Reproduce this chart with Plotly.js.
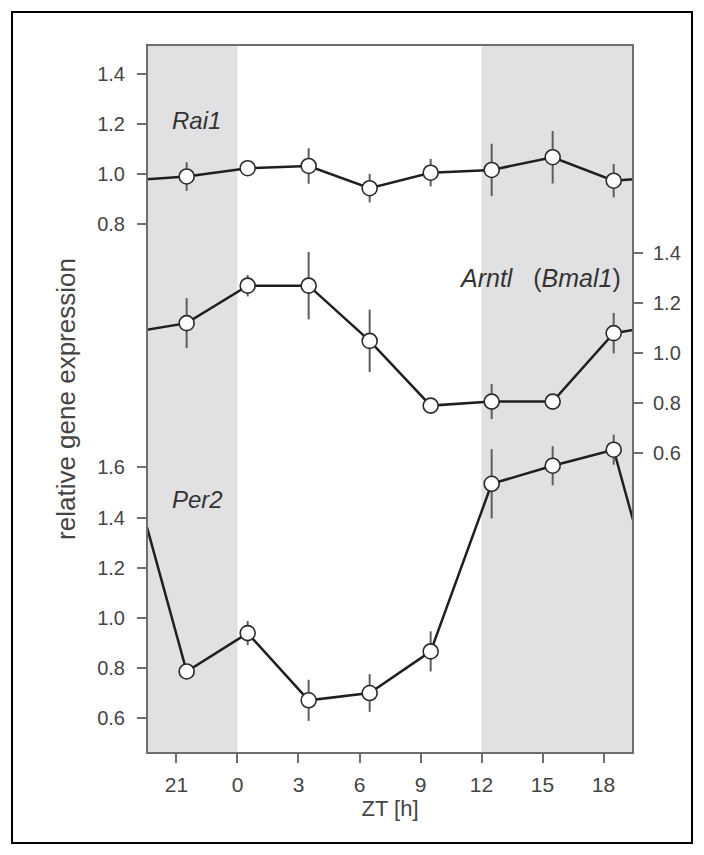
<!DOCTYPE html>
<html>
<head>
<meta charset="utf-8">
<script src="https://cdn.plot.ly/plotly-3.0.1.min.js"></script>
<style>
  html, body { margin: 0; padding: 0; background: #ffffff; }
  #chart { width: 704px; height: 855px; }
</style>
</head>
<body>
<div id="chart"></div>
<script>
// ---- data ----
const zt = [-2.5, 0.5, 3.5, 6.5, 9.5, 12.5, 15.5, 18.5];   // ZT 21.5 shown as -2.5
const rai1 = [0.990, 1.023, 1.032, 0.943, 1.005, 1.016, 1.067, 0.973];
const rai1Err = [0.057, 0.020, 0.071, 0.057, 0.055, 0.105, 0.105, 0.067];
const arntl = [1.120, 1.270, 1.270, 1.049, 0.790, 0.806, 0.806, 1.080];
const arntlErr = [0.100, 0.043, 0.135, 0.125, 0.020, 0.070, 0.020, 0.081];
const per2 = [0.787, 0.940, 0.672, 0.701, 0.867, 1.535, 1.607, 1.671];
const per2Err = [0.020, 0.048, 0.082, 0.075, 0.080, 0.138, 0.078, 0.060];

const xTickVals = [-3, 0, 3, 6, 9, 12, 15, 18];
const xTickText = ['21', '0', '3', '6', '9', '12', '15', '18'];
const rai1Ticks = [0.8, 1.0, 1.2, 1.4];
const arntlTicks = [0.6, 0.8, 1.0, 1.2, 1.4];
const per2Ticks = [0.6, 0.8, 1.0, 1.2, 1.4, 1.6];
const darkStart = [-12, 12];
const darkEnd = [0, 24];
const period = 24;

// ---- styling ----
const FONT = 'Liberation Sans, Arial, sans-serif';
const TXT = '#444444';
const FRAME = '#6e6e6e';
const SHADE = '#e1e1e3';
const LINE = '#1f1f1f';

function wrapX(xs) { return [xs[xs.length - 1] - period].concat(xs, [xs[0] + period]); }
function wrapY(ys) { return [ys[ys.length - 1]].concat(ys, [ys[0]]); }

function series(name, ys, errs, yaxis) {
  return [
    {
      type: 'scatter', mode: 'lines', x: wrapX(zt), y: wrapY(ys), yaxis: yaxis,
      line: { color: LINE, width: 2.5 }, hoverinfo: 'skip', showlegend: false
    },
    {
      type: 'scatter', mode: 'markers', name: name, x: zt, y: ys, yaxis: yaxis,
      marker: { size: 15, color: '#ffffff', line: { color: '#2a2a2a', width: 1.6 } },
      error_y: { type: 'data', array: errs, visible: true, color: '#5e5e5e', thickness: 2, width: 0 },
      cliponaxis: false, showlegend: false
    }
  ];
}

const data = [].concat(
  series('Rai1', rai1, rai1Err, 'y2'),
  series('Arntl (Bmal1)', arntl, arntlErr, 'y3'),
  series('Per2', per2, per2Err, 'y')
);

const xRange = [-4.45, 19.45];
const shapes = darkStart.map((s, i) => ({
  type: 'rect', xref: 'x', yref: 'paper', x0: s, x1: darkEnd[i], y0: 0, y1: 1,
  fillcolor: SHADE, line: { width: 0 }, layer: 'below'
}));
shapes.push({
  type: 'rect', xref: 'paper', yref: 'paper', x0: 0, x1: 1, y0: 0, y1: 1,
  line: { color: FRAME, width: 2 }, fillcolor: 'rgba(0,0,0,0)', layer: 'above'
});
// outer figure border
shapes.push({
  type: 'rect', xref: 'paper', yref: 'paper',
  x0: (12 - 147) / 486, x1: (692 - 147) / 486,
  y0: (753 - 843) / 708, y1: (753 - 12) / 708,
  line: { color: '#000000', width: 2 }, fillcolor: 'rgba(0,0,0,0)', layer: 'above'
});

const yTickFont = { family: FONT, size: 20, color: TXT };
const xTickFont = { family: FONT, size: 21, color: TXT };
const yCommon = {
  showgrid: false, zeroline: false, showline: false,
  ticks: 'outside', ticklen: 9, tickwidth: 2, tickcolor: FRAME,
  tickfont: yTickFont, tickformat: '.1f', fixedrange: true
};

const layout = {
  width: 704, height: 855,
  margin: { l: 147, r: 71, t: 45, b: 102 },
  paper_bgcolor: '#ffffff', plot_bgcolor: '#ffffff',
  showlegend: false,
  xaxis: {
    range: xRange, showgrid: false, zeroline: false, showline: false,
    tickvals: xTickVals, ticktext: xTickText,
    ticks: 'outside', ticklen: 9, tickwidth: 2, tickcolor: FRAME,
    tickfont: xTickFont, ticklabelstandoff: 4,
    title: { text: 'ZT [h]', font: { family: FONT, size: 22, color: TXT }, standoff: 0 }
  },
  xaxis2: {
    range: xRange, overlaying: 'x', side: 'top', anchor: 'y',
    showgrid: false, zeroline: false, showline: false,
    tickvals: xTickVals, showticklabels: false,
    ticks: 'inside', ticklen: 10, tickwidth: 2, tickcolor: FRAME
  },
  yaxis: Object.assign({}, yCommon, {
    range: [0.462, 3.284], tickvals: per2Ticks, side: 'left', anchor: 'x',
    ticklabelstandoff: 8,
    title: { text: 'relative gene expression', font: { family: FONT, size: 26, color: TXT }, standoff: 14 }
  }),
  yaxis2: Object.assign({}, yCommon, {
    range: [-1.317, 1.516], tickvals: rai1Ticks, side: 'left', anchor: 'x', overlaying: 'y',
    ticklabelstandoff: 8
  }),
  yaxis3: Object.assign({}, yCommon, {
    range: [-0.6, 2.233], tickvals: arntlTicks, side: 'right', anchor: 'x', overlaying: 'y',
    ticklabelstandoff: 6
  }),
  shapes: shapes,
  annotations: [
    { text: '<i>Rai1</i>', xref: 'paper', yref: 'paper', x: 0.048, y: 0.893,
      xanchor: 'left', yanchor: 'middle', showarrow: false,
      font: { family: FONT, size: 24, color: '#333333' } },
    { text: '<i>Arntl</i>\u00a0\u00a0\u00a0(<i>Bmal1</i>)', xref: 'paper', yref: 'paper', x: 0.979, y: 0.671,
      xanchor: 'right', yanchor: 'middle', showarrow: false,
      font: { family: FONT, size: 25, color: '#333333' } },
    { text: '<i>Per2</i>', xref: 'paper', yref: 'paper', x: 0.048, y: 0.358,
      xanchor: 'left', yanchor: 'middle', showarrow: false,
      font: { family: FONT, size: 24, color: '#333333' } }
  ]
};

Plotly.newPlot('chart', data, layout, { staticPlot: true, displayModeBar: false });
</script>
</body>
</html>
